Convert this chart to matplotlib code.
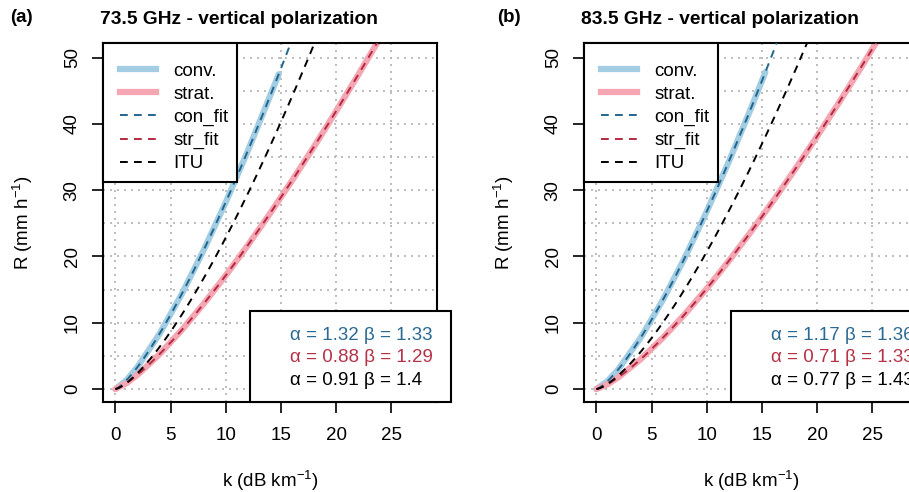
import numpy as np
import matplotlib
matplotlib.use("Agg")
import matplotlib.pyplot as plt
from matplotlib.lines import Line2D
from matplotlib.patches import Rectangle

plt.rcParams['font.family'] = ['Liberation Sans', 'DejaVu Sans']
plt.rcParams['mathtext.default'] = 'regular'

# ---- data -------------------------------------------------------------
panel_tags = ["(a)", "(b)"]
panel_titles = ["73.5 GHz - vertical polarization", "83.5 GHz - vertical polarization"]

# convective k-R relation (specific attenuation k in dB/km, rain rate R in mm/h)
k_conv_a = [0, 1, 2, 4, 6, 8, 10, 12, 14, 14.8]
R_conv_a = [0, 1.32, 3.32, 8.34, 14.3, 20.97, 28.2, 35.96, 44.2, 47.5]
k_conv_b = [0, 1, 2, 4, 6, 8, 10, 12, 14, 15.3]
R_conv_b = [0, 1.17, 3.0, 7.71, 13.38, 19.79, 26.81, 34.34, 42.35, 47.8]

# stratiform k-R relation
k_strat_a = [0, 1, 2, 4, 6, 8, 10, 12, 14, 16, 18, 20, 22, 24]
R_strat_a = [0, 0.88, 2.15, 5.26, 8.88, 12.87, 17.16, 21.71, 26.48, 31.46,
             36.6, 41.95, 47.43, 53.06]
k_strat_b = [0, 1, 2, 4, 6, 8, 10, 12, 14, 16, 18, 20, 22, 24, 26]
R_strat_b = [0, 0.71, 1.79, 4.49, 7.70, 11.28, 15.18, 19.34, 23.75, 28.36,
             33.17, 38.16, 43.3, 48.6, 54.1]

# power-law coefficients R = alpha * k^beta : conv fit, strat fit, ITU
alpha_a = [1.32, 0.88, 0.91]
beta_a = [1.33, 1.29, 1.4]
alpha_b = [1.17, 0.71, 0.77]
beta_b = [1.36, 1.33, 1.43]

legend_labels = ['conv.', 'strat.', 'con_fit', 'str_fit', 'ITU']
x_ticks = [0, 5, 10, 15, 20, 25]
y_ticks = [0, 10, 20, 30, 40, 50]

# ---- styling -----------------------------------------------------------
c_conv = '#a3cde3'
c_strat = '#f4a7b3'
c_conv_fit = '#22668e'
c_strat_fit = '#b52a40'
c_itu = 'black'
c_txt = ['#2a6a92', '#b53246', 'black']
fit_colors = [c_conv_fit, c_strat_fit, c_itu]
fs = 13.5
dash = (0, (4, 3.2))

W, H = 909, 492
fig = plt.figure(figsize=(W / 100, H / 100), dpi=100)

panels = [
    (103, k_conv_a, R_conv_a, k_strat_a, R_strat_a, alpha_a, beta_a),
    (584, k_conv_b, R_conv_b, k_strat_b, R_strat_b, alpha_b, beta_b),
]

ax_w, ax_top, ax_bot = 334, 43, 402
k_fit = np.linspace(0, 28, 400)

for i, (x0, kc, Rc, ks, Rs, al, be) in enumerate(panels):
    ax = fig.add_axes([x0 / W, 1 - ax_bot / H, ax_w / W, (ax_bot - ax_top) / H])
    ax.set_xlim(-1.12, 29.12)
    ax.set_ylim(-1.95, 52.2)

    # dotted grid every 5 units
    for gx in np.arange(0, 30, 5):
        ax.axvline(gx, color='#b3b3b3', lw=1.2, ls=(0, (1.2, 3)), zorder=0)
    for gy in np.arange(0, 55, 5):
        ax.axhline(gy, color='#b3b3b3', lw=1.2, ls=(0, (1.2, 3)), zorder=0)

    ax.plot(kc, Rc, color=c_conv, lw=4.5, solid_capstyle='round', zorder=2)
    ax.plot(ks, Rs, color=c_strat, lw=4.5, solid_capstyle='round', zorder=2)
    for a, b, col in zip(al, be, fit_colors):
        ax.plot(k_fit, a * k_fit ** b, color=col, lw=1.4, ls=dash, zorder=3)

    ax.set_xticks(x_ticks)
    ax.set_yticks(y_ticks)
    ax.tick_params(axis='both', direction='out', length=8, width=1.2,
                   labelsize=fs, color='black')
    ax.tick_params(axis='x', pad=10)
    ax.tick_params(axis='y', pad=8)
    for lab in ax.get_yticklabels():
        lab.set_rotation(90)
        lab.set_va('center')
    for sp in ax.spines.values():
        sp.set_linewidth(1.5)
        sp.set_color('black')

    ax.set_xlabel('k (dB km$^{-1}$)', fontsize=fs)
    ax.xaxis.set_label_coords(0.5, -0.185)
    ax.set_ylabel('R (mm h$^{-1}$)', fontsize=fs)
    ax.yaxis.set_label_coords(-0.205, 0.5)

    # legend frame in the upper left corner, entries laid over it
    ax.add_patch(Rectangle((0, 0.614), 0.4, 0.386, transform=ax.transAxes,
                           facecolor='white', edgecolor='black', lw=1.5,
                           zorder=4.5, clip_on=False))
    handles = [
        Line2D([], [], color=c_conv, lw=4.5),
        Line2D([], [], color=c_strat, lw=4.5),
        Line2D([], [], color=c_conv_fit, lw=1.4, ls=dash),
        Line2D([], [], color=c_strat_fit, lw=1.4, ls=dash),
        Line2D([], [], color=c_itu, lw=1.4, ls=dash),
    ]
    leg = ax.legend(handles, legend_labels,
                    loc='upper left', bbox_to_anchor=(0.051, 0.946),
                    borderaxespad=0, borderpad=0, frameon=False,
                    fontsize=fs, handlelength=1.9, handletextpad=0.95,
                    labelspacing=0.32)
    leg.set_zorder(5)

    # coefficient box in the lower right corner
    ax.add_patch(Rectangle((0.441, 0), 0.6, 0.254, transform=ax.transAxes,
                           facecolor='white', edgecolor='black', lw=1.5,
                           zorder=5, clip_on=False))
    for j, (a, b) in enumerate(zip(al, be)):
        ax.text(0.56, 0.186 - j * 0.0625, f'α = {a:g} β = {b:g}',
                transform=ax.transAxes, color=c_txt[j], fontsize=fs,
                ha='left', va='center', zorder=6)

    fig.text((x0 - 3) / W, 1 - 20 / H, panel_titles[i], fontsize=13.75,
             fontweight='bold', ha='left', va='center')
    fig.text((10 + i * 487) / W, 1 - 18 / H, panel_tags[i], fontsize=13.5,
             fontweight='bold', ha='left', va='center')

fig.savefig('out.png', dpi=100)
